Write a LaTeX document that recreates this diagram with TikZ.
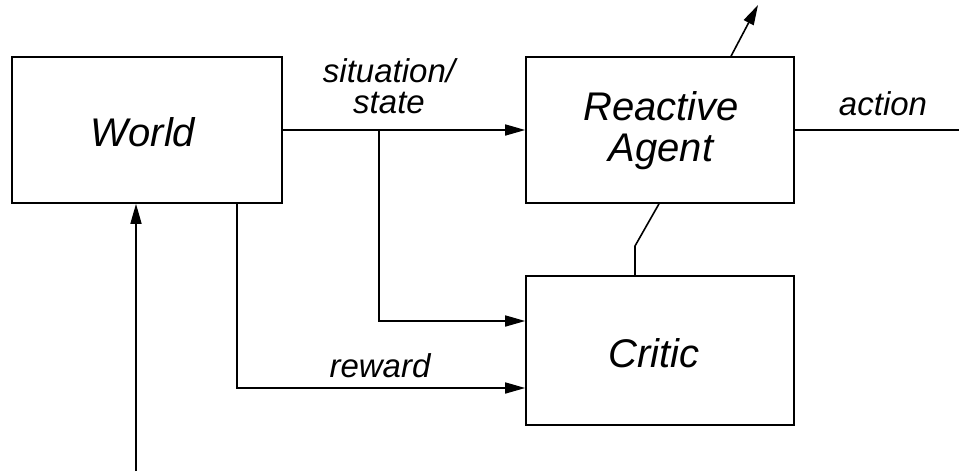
\documentclass[tikz,border=0pt]{standalone}
\usepackage{fontspec}
\setmainfont{Liberation Sans}
\usetikzlibrary{arrows.meta}
\begin{document}
\begin{tikzpicture}[x=1pt,y=-1pt,
  line width=1.6pt,
  box/.style={draw, rectangle, inner sep=0pt},
  big/.style={font=\fontsize{40}{41}\selectfont\itshape, inner sep=0pt, anchor=base},
  lbl/.style={font=\fontsize{33}{31}\selectfont\itshape, inner sep=0pt, anchor=base},
  arr/.style={-{Triangle[length=20pt,width=11pt]}}]
\useasboundingbox (0,0) rectangle (959,472);
\node[box, minimum width=270pt, minimum height=146pt] (world) at (147,130) {};
\node[box, minimum width=268pt, minimum height=146pt] (agent) at (660,130) {};
\node[box, minimum width=268pt, minimum height=149pt] (critic) at (660,350.5) {};
\node[big] (worldtxt) at (143,146) {World};
\node[big] (agenttxt1) at (661,120) {Reactive};
\node[big] (agenttxt2) at (661,161) {Agent};
\node[big] (critictxt) at (654,367) {Critic};
\coordinate (b1) at (379,130);
\coordinate (b2) at (379,321);
\coordinate (r1) at (237,203);
\coordinate (r2) at (237,388);
\coordinate (in) at (136,471);
\coordinate (out) at (959,130);
\coordinate (up) at (758,5);
\coordinate (k1) at (635,276);
\coordinate (k2) at (635,246);
\coordinate (k3) at (659,203);
\coordinate (t1) at (731,57);
\draw[arr] (world.east) -- (agent.west);
\draw[arr] (b1) -- (b2) -- (critic.west |- b2);
\draw[arr] (world.south -| r1) -- (r2) -- (critic.west |- r2);
\draw[arr] (in) -- (in |- world.south);
\draw (critic.north -| k1) -- (k2) -- (agent.south -| k3);
\draw[arr] (agent.north -| t1) -- (up);
\draw (agent.east) -- (out);
\node[lbl] (sit1) at (389,82) {situation/};
\node[lbl] (sit2) at (389,113) {state};
\node[lbl] (act) at (883,115) {action};
\node[lbl] (rew) at (380,377) {reward};
\end{tikzpicture}
\end{document}
